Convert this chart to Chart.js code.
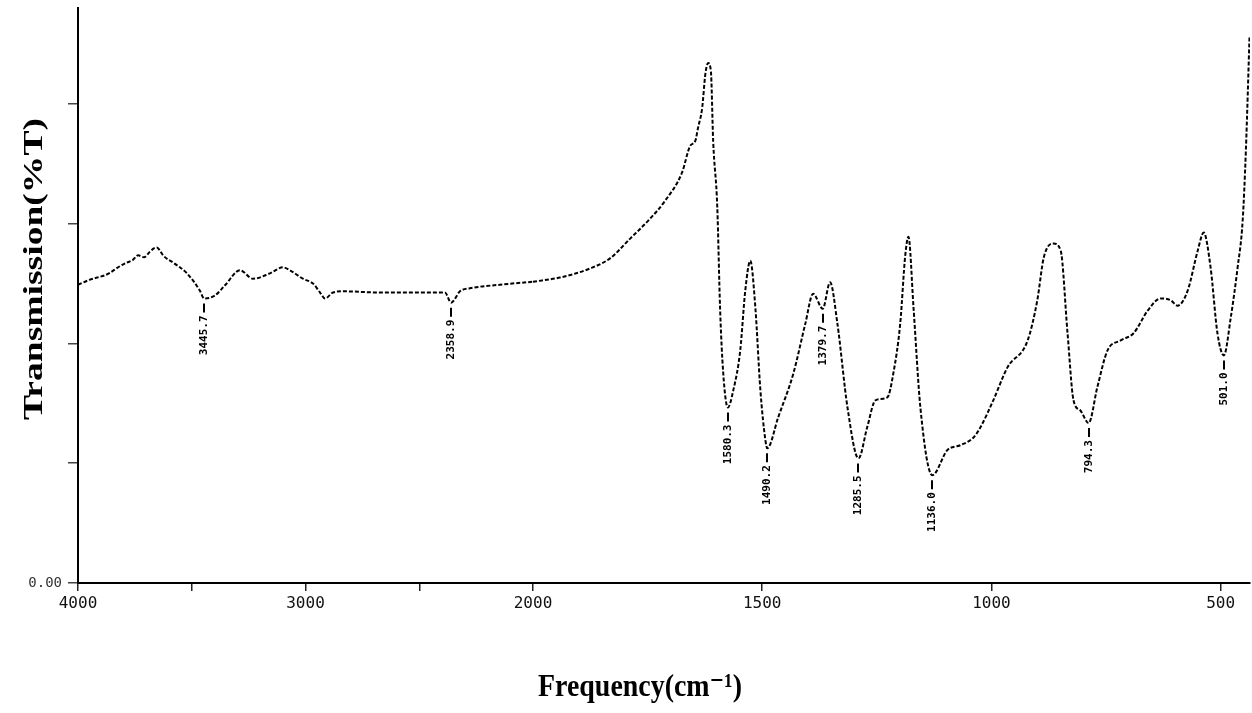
<!DOCTYPE html>
<html>
<head>
<meta charset="utf-8">
<script src="https://cdn.jsdelivr.net/npm/chart.js@4/dist/chart.umd.min.js"></script>
<style>
  html, body { margin: 0; padding: 0; background: #fff; }
  #c { display: block; }
</style>
</head>
<body>
<canvas id="c" width="1252" height="713"></canvas>
<script>
// ---- data ----
const highFreq = [4000, 3950, 3916, 3880, 3859, 3820, 3785, 3760, 3736, 3710, 3684, 3665, 3653, 3640, 3626, 3582, 3521, 3464, 3445.7, 3398, 3354, 3288, 3231, 3156, 3099, 3068, 3011, 2967, 2936, 2914, 2879, 2835, 2673, 2497, 2387, 2360, 2321, 2277, 2145, 2000];
const highT    = [49.8, 50.6, 51.0, 51.4, 51.8, 52.8, 53.5, 53.9, 54.7, 54.4, 55.3, 55.9, 56.0, 55.5, 54.7, 53.5, 51.7, 48.8, 47.5, 48.0, 49.7, 52.2, 50.8, 51.7, 52.7, 52.2, 50.8, 50.0, 48.5, 47.5, 48.5, 48.7, 48.5, 48.5, 48.5, 46.8, 48.7, 49.2, 49.8, 50.3];

const lowFreq = [2000, 1941, 1876, 1832, 1788, 1745, 1712, 1675, 1657, 1646, 1640, 1631, 1624, 1618, 1612, 1607, 1598, 1592, 1585, 1575, 1563, 1548, 1537, 1526, 1515, 1504, 1493, 1489, 1465, 1432, 1406, 1389, 1368, 1352, 1336, 1314, 1290, 1271, 1253, 1227, 1214, 1199, 1188, 1181, 1170, 1155, 1129, 1096, 1068, 1039, 1024, 996, 965, 921, 900, 886, 865, 849, 834, 821, 806, 788, 769, 747, 718, 690, 659, 631, 609, 594, 572, 550, 537, 522, 507, 493, 478, 463, 452, 445, 437];
const lowT    = [50.3, 51.0, 52.5, 54.2, 57.5, 60.8, 63.8, 68.5, 73.0, 73.8, 76.0, 79.3, 85.0, 86.8, 85.5, 73.8, 62.7, 46.0, 35.0, 29.3, 32.2, 38.8, 48.8, 53.8, 46.0, 32.2, 23.8, 22.5, 27.7, 35.0, 43.3, 48.3, 45.8, 50.2, 43.3, 29.3, 20.8, 26.0, 30.5, 31.0, 35.0, 43.3, 54.7, 57.8, 46.0, 29.3, 18.0, 22.2, 23.0, 24.3, 26.0, 30.5, 36.0, 40.5, 47.2, 54.3, 56.7, 55.5, 41.7, 30.5, 28.8, 26.7, 32.7, 38.8, 40.5, 41.7, 45.5, 47.5, 47.2, 46.3, 48.8, 55.5, 58.5, 52.7, 41.7, 38.0, 44.3, 52.7, 60.5, 72.2, 91.3];

const peakFreq = [3445.7, 2360, 1575, 1489, 1368, 1290, 1129, 788, 493];
const peakT    = [47.5, 46.8, 29.3, 22.5, 45.8, 20.8, 18.0, 26.7, 38.0];
const peakText = ["3445.7", "2358.9", "1580.3", "1490.2", "1379.7", "1285.5", "1136.0", "794.3", "501.0"];

const xHighTicks  = [4000, 3500, 3000, 2500, 2000];
const xHighLabels = ["4000", "", "3000", "", "2000"];
const xLowTicks   = [1500, 1000, 500];
const xLowLabels  = ["1500", "1000", "500"];
const yTicks      = [0, 20, 40, 60, 80];
const yLabels     = ["0.00", "", "", "", ""];

const xTitle = "Frequency(cm\u207B\u00B9)";
const yTitle = "Transmission(%T)";

// ---- chart ----
const highData = highFreq.map((f, i) => ({ x: f, y: highT[i] }));
const lowData  = lowFreq.map((f, i) => ({ x: f, y: lowT[i] }));

function zeroPad(scale) {
  scale.paddingLeft = 0; scale.paddingRight = 0;
  scale.paddingTop = 0; scale.paddingBottom = 0;
}

const titlesPlugin = {
  id: 'titles',
  afterDraw(chart) {
    const ctx = chart.ctx;
    ctx.save();
    ctx.fillStyle = '#000';
    ctx.textAlign = 'center';
    ctx.textBaseline = 'middle';
    ctx.font = 'bold 32px "Liberation Serif", "DejaVu Serif", serif';
    let w = ctx.measureText(xTitle).width;
    ctx.save();
    ctx.translate(640, 688);
    ctx.scale(204 / w, 1);
    ctx.fillText(xTitle, 0, 0);
    ctx.restore();
    ctx.font = 'bold 27px "Liberation Serif", "DejaVu Serif", serif';
    w = ctx.measureText(yTitle).width;
    ctx.save();
    ctx.translate(35, 269);
    ctx.rotate(-Math.PI / 2);
    ctx.scale(302 / w, 1);
    ctx.fillText(yTitle, 0, 0);
    ctx.restore();
    ctx.restore();
  }
};

const peakPlugin = {
  id: 'peaks',
  afterDatasetsDraw(chart) {
    const ctx = chart.ctx;
    const ys = chart.scales.y;
    ctx.save();
    ctx.strokeStyle = '#000';
    ctx.fillStyle = '#000';
    ctx.lineWidth = 2;
    ctx.font = 'bold 11px "DejaVu Sans Mono", monospace';
    ctx.textAlign = 'right';
    ctx.textBaseline = 'middle';
    peakFreq.forEach((f, i) => {
      const xs = f >= 2000 ? chart.scales.xHigh : chart.scales.xLow;
      const px = Math.round(xs.getPixelForValue(f));
      const py = ys.getPixelForValue(peakT[i]);
      ctx.beginPath();
      ctx.moveTo(px, py + 5);
      ctx.lineTo(px, py + 14);
      ctx.stroke();
      ctx.save();
      ctx.translate(px, py + 17);
      ctx.rotate(-Math.PI / 2);
      ctx.fillText(peakText[i], 0, 0);
      ctx.restore();
    });
    ctx.restore();
  }
};

const lineStyle = {
  borderColor: '#000',
  borderWidth: 2,
  borderDash: [4, 2],
  pointRadius: 0,
  fill: false,
  cubicInterpolationMode: 'monotone'
};

const tickFontX = { family: '"DejaVu Sans Mono", monospace', size: 16 };

new Chart(document.getElementById('c'), {
  type: 'line',
  data: {
    datasets: [
      Object.assign({ label: 'high', data: highData, xAxisID: 'xHigh', yAxisID: 'y' }, lineStyle),
      Object.assign({ label: 'low', data: lowData, xAxisID: 'xLow', yAxisID: 'y' }, lineStyle)
    ]
  },
  options: {
    responsive: false,
    devicePixelRatio: 1,
    animation: false,
    layout: { padding: { top: 8, right: 2, left: 0, bottom: 0 } },
    plugins: { legend: { display: false }, tooltip: { enabled: false } },
    scales: {
      xHigh: {
        type: 'linear', position: 'bottom', stack: 'x', stackWeight: 455,
        min: 2000, max: 4000, reverse: true,
        afterBuildTicks: s => { s.ticks = xHighTicks.map(v => ({ value: v })); },
        afterFit: s => { s.height = 130; zeroPad(s); },
        ticks: {
          autoSkip: false, maxRotation: 0, padding: 3, color: '#111', font: tickFontX,
          callback: (v, i) => xHighLabels[i]
        },
        grid: { drawOnChartArea: false, tickLength: 8, color: '#222', lineWidth: 1.5 },
        border: { color: '#000', width: 2 }
      },
      xLow: {
        type: 'linear', position: 'bottom', stack: 'x', stackWeight: 717,
        min: 436, max: 2000, reverse: true,
        afterBuildTicks: s => { s.ticks = xLowTicks.map(v => ({ value: v })); },
        afterFit: s => { s.height = 130; zeroPad(s); },
        ticks: {
          autoSkip: false, maxRotation: 0, padding: 3, color: '#111', font: tickFontX,
          callback: (v, i) => xLowLabels[i]
        },
        grid: { drawOnChartArea: false, tickLength: 8, color: '#222', lineWidth: 1.5 },
        border: { color: '#000', width: 2 }
      },
      y: {
        type: 'linear', position: 'left', min: 0, max: 96,
        afterBuildTicks: s => { s.ticks = yTicks.map(v => ({ value: v })); },
        afterFit: s => { s.width = 78; zeroPad(s); },
        ticks: {
          autoSkip: false, padding: 6, color: '#333',
          font: { family: '"DejaVu Sans Mono", monospace', size: 14 },
          callback: (v, i) => yLabels[i]
        },
        grid: { drawOnChartArea: false, tickLength: 10, color: '#444', lineWidth: 1.5 },
        border: { color: '#000', width: 2 }
      }
    }
  },
  plugins: [peakPlugin, titlesPlugin]
});
</script>
</body>
</html>
